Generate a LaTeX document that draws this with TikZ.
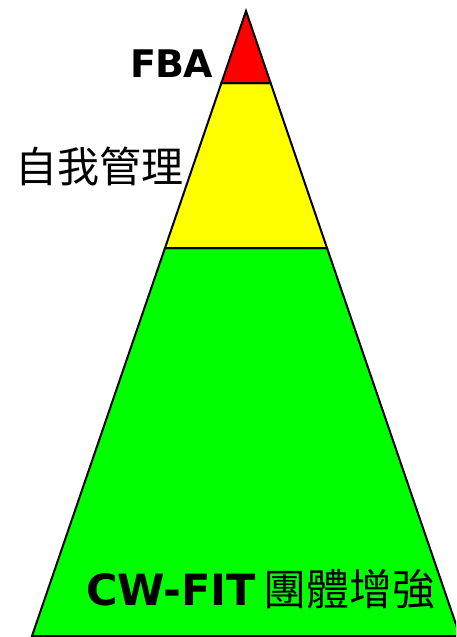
\documentclass[tikz,border=0pt]{standalone}
\usepackage{fontspec}
\setmainfont{DejaVu Sans}
\newfontfamily\cjkfont{Noto Sans CJK TC}
\definecolor{pyred}{RGB}{255,0,0}
\definecolor{pyyellow}{RGB}{255,255,0}
\definecolor{pygreen}{RGB}{0,255,0}
\begin{document}
\begin{tikzpicture}[x=1pt,y=-1pt,
  tier/.style={draw=black,line width=2pt,line join=miter},
  lbl/.style={inner sep=0pt,text=black}]
\useasboundingbox (0,0) rectangle (456,637);
\begin{scope}
\clip (0,0) rectangle (456,637);
\coordinate (apex) at (246,11);
\coordinate (rl) at (221.4,83);
\coordinate (rr) at (270.6,83);
\coordinate (yl) at (165,248);
\coordinate (yr) at (327,248);
\coordinate (bl) at (32,636);
\coordinate (br) at (460,636);
\draw[tier,fill=pygreen] (yl) -- (yr) -- (br) -- (bl) -- cycle;
\draw[tier,fill=pyyellow] (rl) -- (rr) -- (yr) -- (yl) -- cycle;
\draw[tier,fill=pyred] (apex) -- (rr) -- (rl) -- cycle;
\end{scope}
\node[lbl,anchor=base east,font=\bfseries\fontsize{38}{38}\selectfont] (fba) at (213,77) {F\kern-1ptB\kern-1ptA};
\node[lbl,anchor=base west,font=\cjkfont\fontsize{42}{42}\selectfont] (self) at (15,182) {自我管理};
\node[lbl,anchor=base west] (cw) at (86,605) {\bfseries\fontsize{43}{43}\selectfont CW-FIT\hspace{8pt}\cjkfont\mdseries\fontsize{43}{43}\selectfont 團體增強};
\end{tikzpicture}
\end{document}
